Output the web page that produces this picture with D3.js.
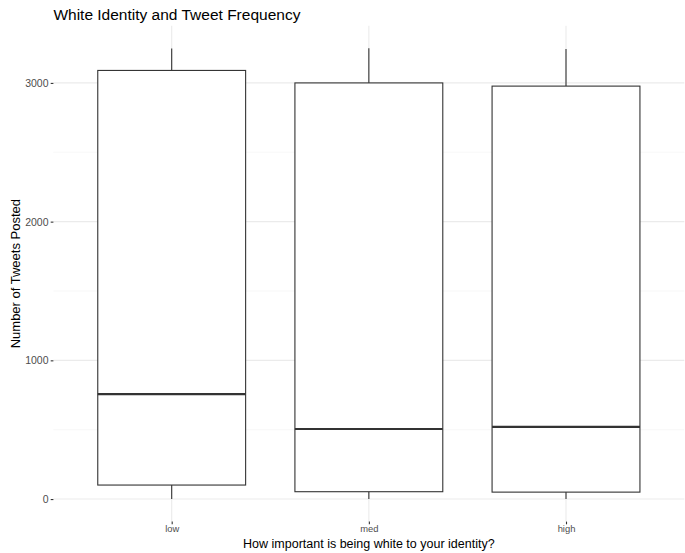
<!DOCTYPE html>
<html>
<head>
<meta charset="utf-8">
<script src="https://cdn.jsdelivr.net/npm/d3@7"></script>
<style>
  body { margin: 0; background: #fff; }
  svg { display: block; }
  text { font-family: "Liberation Sans", Arial, Helvetica, sans-serif; }
</style>
</head>
<body>
<svg id="chart" width="685" height="553"></svg>
<script>
const categories = ["low", "med", "high"];
const whiskerLow = [0, 0, 0];
const q1 = [101, 53, 50];
const medians = [756, 505, 521];
const q3 = [3090, 3000, 2977];
const whiskerHigh = [3248, 3250, 3245];
const yTicks = [0, 1000, 2000, 3000];
const yMinorTicks = [500, 1500, 2500];

const svg = d3.select("#chart");
const panel = { left: 53.4, right: 684.3, top: 25.7, bottom: 521.6 };
const FONT = '"Liberation Sans", Arial, sans-serif';

const ymin = d3.min(whiskerLow), ymax = d3.max(whiskerHigh);
const pad = (ymax - ymin) * 0.05;
const y = d3.scaleLinear().domain([ymin - pad, ymax + pad]).range([panel.bottom, panel.top]);
const x = d3.scalePoint().domain(categories).range([panel.left, panel.right]).padding(0.6);
const boxW = x.step() * 0.75;

const grid = svg.append("g");
grid.selectAll(".minor").data(yMinorTicks).join("line")
  .attr("x1", panel.left).attr("x2", panel.right)
  .attr("y1", d => y(d)).attr("y2", d => y(d))
  .attr("stroke", "#f3f3f3").attr("stroke-width", 0.6);
grid.selectAll(".major").data(yTicks).join("line")
  .attr("x1", panel.left).attr("x2", panel.right)
  .attr("y1", d => y(d)).attr("y2", d => y(d))
  .attr("stroke", "#ebebeb").attr("stroke-width", 1.1);
grid.selectAll(".vmajor").data(categories).join("line")
  .attr("x1", d => x(d)).attr("x2", d => x(d))
  .attr("y1", panel.top).attr("y2", panel.bottom)
  .attr("stroke", "#ebebeb").attr("stroke-width", 1.1);

// Axes
const yAxis = d3.axisLeft(y).tickValues(yTicks).tickFormat(d3.format("d")).tickSize(2.7).tickPadding(2.2);
const gy = svg.append("g").attr("transform", `translate(${panel.left},0)`).call(yAxis);
gy.select(".domain").remove();
gy.selectAll(".tick line").attr("stroke", "#333333").attr("stroke-width", 1.1);
gy.selectAll(".tick text").attr("fill", "#4d4d4d").attr("font-size", "10.5px").attr("font-family", FONT);

const xAxis = d3.axisBottom(x).tickSize(2.7).tickPadding(1.2);
const gx = svg.append("g").attr("transform", `translate(0,${panel.bottom})`).call(xAxis);
gx.select(".domain").remove();
gx.selectAll(".tick line").attr("stroke", "#333333").attr("stroke-width", 1.1);
gx.selectAll(".tick text").attr("fill", "#4d4d4d").attr("font-size", "9.4px").attr("font-family", FONT);

// Boxes
const data = categories.map((c, i) => ({ c, lo: whiskerLow[i], q1: q1[i], med: medians[i], q3: q3[i], hi: whiskerHigh[i] }));
const g = svg.append("g");
const box = g.selectAll("g.box").data(data).join("g").attr("class", "box");
box.append("line")
  .attr("x1", d => x(d.c)).attr("x2", d => x(d.c))
  .attr("y1", d => y(d.hi)).attr("y2", d => y(d.q3))
  .attr("stroke", "#333333").attr("stroke-width", 1.1);
box.append("line")
  .attr("x1", d => x(d.c)).attr("x2", d => x(d.c))
  .attr("y1", d => y(d.q1)).attr("y2", d => y(d.lo))
  .attr("stroke", "#333333").attr("stroke-width", 1.1);
box.append("rect")
  .attr("x", d => x(d.c) - boxW / 2).attr("width", boxW)
  .attr("y", d => y(d.q3)).attr("height", d => y(d.q1) - y(d.q3))
  .attr("fill", "#ffffff").attr("stroke", "#333333").attr("stroke-width", 1.1);
box.append("line")
  .attr("x1", d => x(d.c) - boxW / 2).attr("x2", d => x(d.c) + boxW / 2)
  .attr("y1", d => y(d.med)).attr("y2", d => y(d.med))
  .attr("stroke", "#333333").attr("stroke-width", 2.2);

// Titles
svg.append("text").attr("x", panel.left).attr("y", 20)
  .attr("font-size", "15.5px").attr("fill", "#000")
  .text("White Identity and Tweet Frequency");
svg.append("text").attr("x", (panel.left + panel.right) / 2).attr("y", 548)
  .attr("text-anchor", "middle").attr("font-size", "12.5px").attr("fill", "#000")
  .text("How important is being white to your identity?");
svg.append("text")
  .attr("transform", `translate(20,${(panel.top + panel.bottom) / 2}) rotate(-90)`)
  .attr("text-anchor", "middle").attr("font-size", "13px").attr("fill", "#000")
  .text("Number of Tweets Posted");
</script>
</body>
</html>
